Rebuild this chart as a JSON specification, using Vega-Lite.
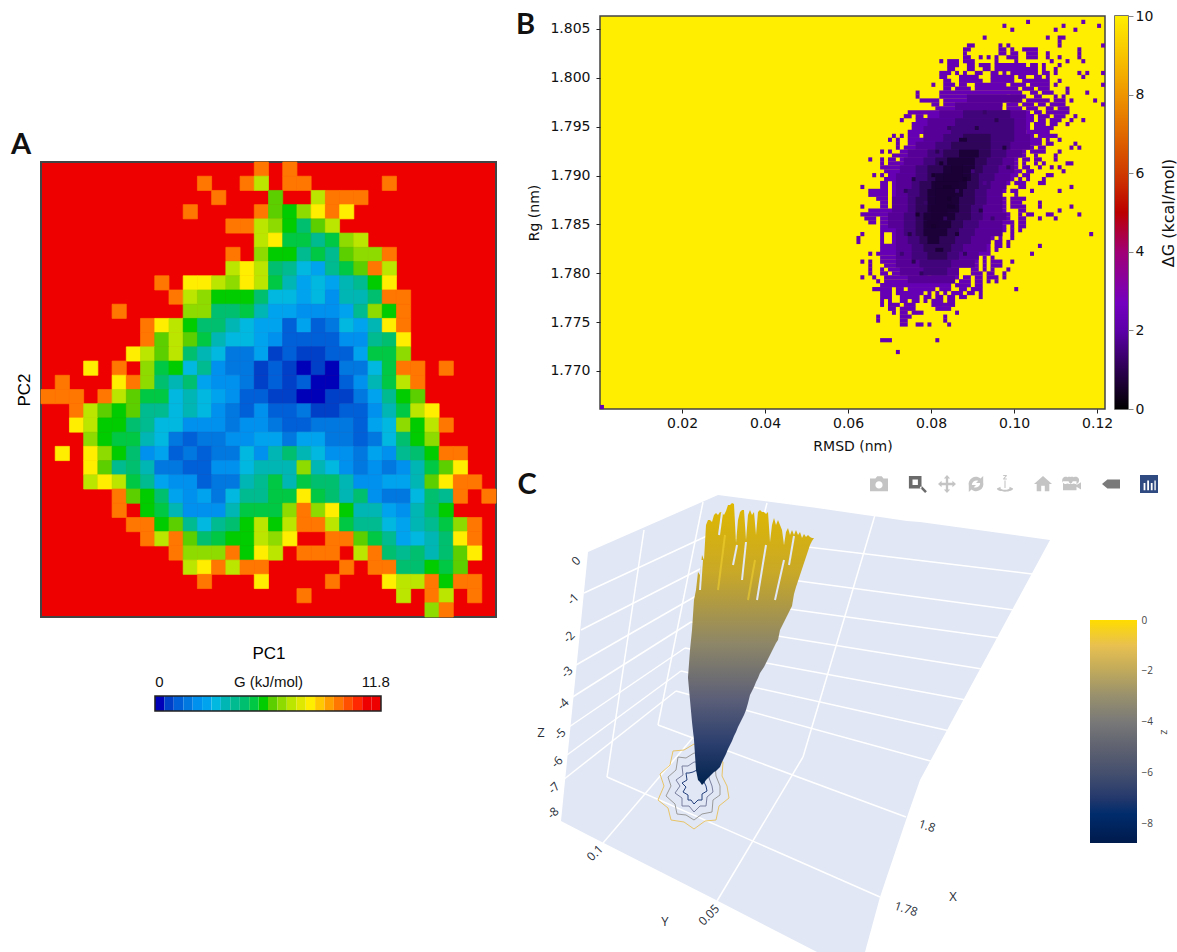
{"$schema":"https://vega.github.io/schema/vega-lite/v6.json","background":"white","padding":{"left":10,"top":8,"right":0,"bottom":0},"config":{"view":{"stroke":null},"font":"DejaVu Sans"},
"datasets":{
"pca":[
{"c":15,"r":0,"G":9.7},{"c":17,"r":0,"G":9.7},
{"c":11,"r":1,"G":9.7},{"c":14,"r":1,"G":9.7},{"c":15,"r":1,"G":7.2},{"c":17,"r":1,"G":9.7},{"c":18,"r":1,"G":9.7},{"c":24,"r":1,"G":9.7},
{"c":12,"r":2,"G":9.7},{"c":16,"r":2,"G":6.2},{"c":19,"r":2,"G":7.2},{"c":20,"r":2,"G":9.7},{"c":21,"r":2,"G":9.7},{"c":22,"r":2,"G":9.7},
{"c":10,"r":3,"G":9.7},{"c":15,"r":3,"G":9.7},{"c":16,"r":3,"G":6.2},{"c":17,"r":3,"G":5.7},{"c":18,"r":3,"G":6.7},{"c":19,"r":3,"G":8.2},{"c":20,"r":3,"G":9.7},{"c":21,"r":3,"G":8.2},
{"c":13,"r":4,"G":9.7},{"c":14,"r":4,"G":9.7},{"c":15,"r":4,"G":7.2},{"c":16,"r":4,"G":6.7},{"c":17,"r":4,"G":5.7},{"c":18,"r":4,"G":4.7},{"c":19,"r":4,"G":6.2},{"c":20,"r":4,"G":7.2},
{"c":15,"r":5,"G":7.2},{"c":16,"r":5,"G":8.2},{"c":17,"r":5,"G":5.2},{"c":18,"r":5,"G":5.2},{"c":19,"r":5,"G":4.2},{"c":20,"r":5,"G":5.2},{"c":21,"r":5,"G":6.7},{"c":22,"r":5,"G":7.2},
{"c":13,"r":6,"G":9.7},{"c":15,"r":6,"G":6.7},{"c":16,"r":6,"G":5.7},{"c":17,"r":6,"G":5.7},{"c":18,"r":6,"G":4.2},{"c":19,"r":6,"G":5.2},{"c":20,"r":6,"G":4.2},{"c":21,"r":6,"G":6.2},{"c":22,"r":6,"G":6.7},{"c":23,"r":6,"G":6.7},{"c":24,"r":6,"G":9.7},
{"c":13,"r":7,"G":7.2},{"c":14,"r":7,"G":8.2},{"c":15,"r":7,"G":7.2},{"c":16,"r":7,"G":4.7},{"c":17,"r":7,"G":4.2},{"c":18,"r":7,"G":3.2},{"c":19,"r":7,"G":2.7},{"c":20,"r":7,"G":4.2},{"c":21,"r":7,"G":5.2},{"c":22,"r":7,"G":6.2},{"c":23,"r":7,"G":9.7},{"c":24,"r":7,"G":7.2},
{"c":8,"r":8,"G":9.7},{"c":10,"r":8,"G":8.2},{"c":11,"r":8,"G":8.2},{"c":12,"r":8,"G":7.2},{"c":13,"r":8,"G":6.7},{"c":14,"r":8,"G":8.2},{"c":15,"r":8,"G":7.2},{"c":16,"r":8,"G":5.2},{"c":17,"r":8,"G":3.7},{"c":18,"r":8,"G":2.7},{"c":19,"r":8,"G":3.2},{"c":20,"r":8,"G":2.7},{"c":21,"r":8,"G":3.7},{"c":22,"r":8,"G":4.2},{"c":23,"r":8,"G":5.7},{"c":24,"r":8,"G":8.2},
{"c":9,"r":9,"G":9.7},{"c":10,"r":9,"G":7.2},{"c":11,"r":9,"G":6.7},{"c":12,"r":9,"G":5.7},{"c":13,"r":9,"G":5.7},{"c":14,"r":9,"G":5.7},{"c":15,"r":9,"G":4.7},{"c":16,"r":9,"G":3.2},{"c":17,"r":9,"G":3.2},{"c":18,"r":9,"G":2.7},{"c":19,"r":9,"G":3.2},{"c":20,"r":9,"G":2.2},{"c":21,"r":9,"G":3.7},{"c":22,"r":9,"G":3.7},{"c":23,"r":9,"G":4.7},{"c":24,"r":9,"G":9.7},{"c":25,"r":9,"G":9.7},
{"c":5,"r":10,"G":9.7},{"c":10,"r":10,"G":6.7},{"c":11,"r":10,"G":6.7},{"c":12,"r":10,"G":4.7},{"c":13,"r":10,"G":4.7},{"c":14,"r":10,"G":5.2},{"c":15,"r":10,"G":3.7},{"c":16,"r":10,"G":2.7},{"c":17,"r":10,"G":2.7},{"c":18,"r":10,"G":2.2},{"c":19,"r":10,"G":2.2},{"c":20,"r":10,"G":2.2},{"c":21,"r":10,"G":2.7},{"c":22,"r":10,"G":4.2},{"c":23,"r":10,"G":6.7},{"c":24,"r":10,"G":5.7},{"c":25,"r":10,"G":9.7},
{"c":7,"r":11,"G":9.7},{"c":8,"r":11,"G":8.2},{"c":9,"r":11,"G":7.2},{"c":10,"r":11,"G":5.7},{"c":11,"r":11,"G":4.7},{"c":12,"r":11,"G":4.7},{"c":13,"r":11,"G":3.7},{"c":14,"r":11,"G":3.2},{"c":15,"r":11,"G":2.7},{"c":16,"r":11,"G":2.7},{"c":17,"r":11,"G":1.2},{"c":18,"r":11,"G":2.7},{"c":19,"r":11,"G":1.2},{"c":20,"r":11,"G":1.7},{"c":21,"r":11,"G":3.2},{"c":22,"r":11,"G":2.7},{"c":23,"r":11,"G":3.7},{"c":24,"r":11,"G":8.2},{"c":25,"r":11,"G":9.7},
{"c":7,"r":12,"G":9.7},{"c":8,"r":12,"G":6.2},{"c":9,"r":12,"G":7.2},{"c":10,"r":12,"G":6.2},{"c":11,"r":12,"G":5.2},{"c":12,"r":12,"G":3.7},{"c":13,"r":12,"G":3.2},{"c":14,"r":12,"G":3.2},{"c":15,"r":12,"G":2.7},{"c":16,"r":12,"G":2.2},{"c":17,"r":12,"G":1.2},{"c":18,"r":12,"G":1.2},{"c":19,"r":12,"G":1.2},{"c":20,"r":12,"G":1.2},{"c":21,"r":12,"G":2.2},{"c":22,"r":12,"G":2.2},{"c":23,"r":12,"G":4.2},{"c":24,"r":12,"G":4.7},{"c":25,"r":12,"G":8.2},
{"c":6,"r":13,"G":8.2},{"c":7,"r":13,"G":7.2},{"c":8,"r":13,"G":6.2},{"c":9,"r":13,"G":7.2},{"c":10,"r":13,"G":4.7},{"c":11,"r":13,"G":3.7},{"c":12,"r":13,"G":3.2},{"c":13,"r":13,"G":1.7},{"c":14,"r":13,"G":1.7},{"c":15,"r":13,"G":2.7},{"c":16,"r":13,"G":0.7},{"c":17,"r":13,"G":1.2},{"c":18,"r":13,"G":0.7},{"c":19,"r":13,"G":0.7},{"c":20,"r":13,"G":1.2},{"c":21,"r":13,"G":1.2},{"c":22,"r":13,"G":2.7},{"c":23,"r":13,"G":5.2},{"c":24,"r":13,"G":5.2},{"c":25,"r":13,"G":6.7},
{"c":3,"r":14,"G":8.2},{"c":5,"r":14,"G":9.7},{"c":7,"r":14,"G":6.7},{"c":8,"r":14,"G":5.2},{"c":9,"r":14,"G":5.7},{"c":10,"r":14,"G":3.2},{"c":11,"r":14,"G":4.2},{"c":12,"r":14,"G":2.2},{"c":13,"r":14,"G":1.7},{"c":14,"r":14,"G":1.7},{"c":15,"r":14,"G":0.7},{"c":16,"r":14,"G":1.2},{"c":17,"r":14,"G":0.7},{"c":18,"r":14,"G":0.2},{"c":19,"r":14,"G":0.7},{"c":20,"r":14,"G":0.2},{"c":21,"r":14,"G":1.7},{"c":22,"r":14,"G":1.7},{"c":23,"r":14,"G":3.2},{"c":24,"r":14,"G":5.2},{"c":25,"r":14,"G":9.7},{"c":26,"r":14,"G":9.7},{"c":28,"r":14,"G":9.7},
{"c":1,"r":15,"G":9.7},{"c":5,"r":15,"G":8.2},{"c":6,"r":15,"G":9.7},{"c":7,"r":15,"G":6.7},{"c":8,"r":15,"G":4.7},{"c":9,"r":15,"G":3.7},{"c":10,"r":15,"G":4.7},{"c":11,"r":15,"G":2.7},{"c":12,"r":15,"G":2.2},{"c":13,"r":15,"G":2.2},{"c":14,"r":15,"G":1.7},{"c":15,"r":15,"G":0.7},{"c":16,"r":15,"G":1.2},{"c":17,"r":15,"G":0.7},{"c":18,"r":15,"G":1.2},{"c":19,"r":15,"G":0.2},{"c":20,"r":15,"G":0.2},{"c":21,"r":15,"G":1.2},{"c":22,"r":15,"G":2.2},{"c":23,"r":15,"G":3.7},{"c":24,"r":15,"G":5.2},{"c":25,"r":15,"G":7.2},{"c":26,"r":15,"G":9.7},
{"c":0,"r":16,"G":9.7},{"c":1,"r":16,"G":9.7},{"c":2,"r":16,"G":9.7},{"c":4,"r":16,"G":9.7},{"c":5,"r":16,"G":7.2},{"c":6,"r":16,"G":6.2},{"c":7,"r":16,"G":5.2},{"c":8,"r":16,"G":5.2},{"c":9,"r":16,"G":3.2},{"c":10,"r":16,"G":3.7},{"c":11,"r":16,"G":3.2},{"c":12,"r":16,"G":2.7},{"c":13,"r":16,"G":2.2},{"c":14,"r":16,"G":1.2},{"c":15,"r":16,"G":1.2},{"c":16,"r":16,"G":0.7},{"c":17,"r":16,"G":0.7},{"c":18,"r":16,"G":0.2},{"c":19,"r":16,"G":0.2},{"c":20,"r":16,"G":0.7},{"c":21,"r":16,"G":0.7},{"c":22,"r":16,"G":1.7},{"c":23,"r":16,"G":2.7},{"c":24,"r":16,"G":4.2},{"c":25,"r":16,"G":5.7},{"c":26,"r":16,"G":6.2},
{"c":2,"r":17,"G":9.7},{"c":3,"r":17,"G":7.2},{"c":4,"r":17,"G":6.2},{"c":5,"r":17,"G":5.7},{"c":6,"r":17,"G":6.2},{"c":7,"r":17,"G":4.2},{"c":8,"r":17,"G":4.2},{"c":9,"r":17,"G":3.2},{"c":10,"r":17,"G":3.7},{"c":11,"r":17,"G":3.2},{"c":12,"r":17,"G":2.2},{"c":13,"r":17,"G":1.7},{"c":14,"r":17,"G":1.2},{"c":15,"r":17,"G":2.2},{"c":16,"r":17,"G":1.2},{"c":17,"r":17,"G":1.2},{"c":18,"r":17,"G":1.7},{"c":19,"r":17,"G":0.7},{"c":20,"r":17,"G":0.7},{"c":21,"r":17,"G":1.2},{"c":22,"r":17,"G":1.2},{"c":23,"r":17,"G":2.2},{"c":24,"r":17,"G":3.7},{"c":25,"r":17,"G":5.2},{"c":26,"r":17,"G":7.2},{"c":27,"r":17,"G":8.2},
{"c":2,"r":18,"G":8.2},{"c":3,"r":18,"G":7.2},{"c":4,"r":18,"G":5.7},{"c":5,"r":18,"G":5.7},{"c":6,"r":18,"G":4.7},{"c":7,"r":18,"G":4.2},{"c":8,"r":18,"G":3.2},{"c":9,"r":18,"G":3.2},{"c":10,"r":18,"G":2.2},{"c":11,"r":18,"G":2.2},{"c":12,"r":18,"G":2.2},{"c":13,"r":18,"G":1.7},{"c":14,"r":18,"G":2.2},{"c":15,"r":18,"G":2.2},{"c":16,"r":18,"G":1.7},{"c":17,"r":18,"G":1.2},{"c":18,"r":18,"G":1.2},{"c":19,"r":18,"G":1.7},{"c":20,"r":18,"G":1.7},{"c":21,"r":18,"G":1.7},{"c":22,"r":18,"G":1.2},{"c":23,"r":18,"G":2.7},{"c":24,"r":18,"G":3.2},{"c":25,"r":18,"G":6.7},{"c":26,"r":18,"G":5.7},{"c":27,"r":18,"G":7.2},{"c":28,"r":18,"G":9.7},
{"c":3,"r":19,"G":6.7},{"c":4,"r":19,"G":5.7},{"c":5,"r":19,"G":5.2},{"c":6,"r":19,"G":5.2},{"c":7,"r":19,"G":3.7},{"c":8,"r":19,"G":3.2},{"c":9,"r":19,"G":1.7},{"c":10,"r":19,"G":1.2},{"c":11,"r":19,"G":1.7},{"c":12,"r":19,"G":1.7},{"c":13,"r":19,"G":2.2},{"c":14,"r":19,"G":2.2},{"c":15,"r":19,"G":2.7},{"c":16,"r":19,"G":2.7},{"c":17,"r":19,"G":1.7},{"c":18,"r":19,"G":2.7},{"c":19,"r":19,"G":2.7},{"c":20,"r":19,"G":1.7},{"c":21,"r":19,"G":1.7},{"c":22,"r":19,"G":1.2},{"c":23,"r":19,"G":1.7},{"c":24,"r":19,"G":3.2},{"c":25,"r":19,"G":4.7},{"c":26,"r":19,"G":5.7},{"c":27,"r":19,"G":6.7},
{"c":1,"r":20,"G":8.2},{"c":3,"r":20,"G":8.2},{"c":4,"r":20,"G":6.7},{"c":5,"r":20,"G":5.7},{"c":6,"r":20,"G":4.7},{"c":7,"r":20,"G":2.2},{"c":8,"r":20,"G":2.7},{"c":9,"r":20,"G":1.2},{"c":10,"r":20,"G":1.7},{"c":11,"r":20,"G":1.2},{"c":12,"r":20,"G":1.7},{"c":13,"r":20,"G":1.7},{"c":14,"r":20,"G":3.2},{"c":15,"r":20,"G":2.2},{"c":16,"r":20,"G":3.7},{"c":17,"r":20,"G":4.7},{"c":18,"r":20,"G":3.7},{"c":19,"r":20,"G":3.2},{"c":20,"r":20,"G":2.2},{"c":21,"r":20,"G":2.2},{"c":22,"r":20,"G":1.7},{"c":23,"r":20,"G":2.7},{"c":24,"r":20,"G":2.2},{"c":25,"r":20,"G":4.2},{"c":26,"r":20,"G":4.7},{"c":27,"r":20,"G":5.7},{"c":28,"r":20,"G":9.7},{"c":29,"r":20,"G":9.7},
{"c":3,"r":21,"G":8.2},{"c":4,"r":21,"G":6.2},{"c":5,"r":21,"G":4.2},{"c":6,"r":21,"G":4.7},{"c":7,"r":21,"G":3.7},{"c":8,"r":21,"G":1.7},{"c":9,"r":21,"G":1.7},{"c":10,"r":21,"G":1.2},{"c":11,"r":21,"G":1.2},{"c":12,"r":21,"G":2.2},{"c":13,"r":21,"G":2.2},{"c":14,"r":21,"G":3.2},{"c":15,"r":21,"G":3.7},{"c":16,"r":21,"G":3.7},{"c":17,"r":21,"G":3.7},{"c":18,"r":21,"G":6.7},{"c":19,"r":21,"G":3.7},{"c":20,"r":21,"G":3.2},{"c":21,"r":21,"G":2.2},{"c":22,"r":21,"G":1.7},{"c":23,"r":21,"G":2.2},{"c":24,"r":21,"G":1.7},{"c":25,"r":21,"G":2.2},{"c":26,"r":21,"G":3.7},{"c":27,"r":21,"G":5.2},{"c":28,"r":21,"G":6.2},{"c":29,"r":21,"G":8.2},
{"c":3,"r":22,"G":7.2},{"c":4,"r":22,"G":8.2},{"c":5,"r":22,"G":7.2},{"c":6,"r":22,"G":5.2},{"c":7,"r":22,"G":4.2},{"c":8,"r":22,"G":2.7},{"c":9,"r":22,"G":2.2},{"c":10,"r":22,"G":2.2},{"c":11,"r":22,"G":1.2},{"c":12,"r":22,"G":1.7},{"c":13,"r":22,"G":1.7},{"c":14,"r":22,"G":3.7},{"c":15,"r":22,"G":4.2},{"c":16,"r":22,"G":5.2},{"c":17,"r":22,"G":3.7},{"c":18,"r":22,"G":5.2},{"c":19,"r":22,"G":4.7},{"c":20,"r":22,"G":4.7},{"c":21,"r":22,"G":3.7},{"c":22,"r":22,"G":2.2},{"c":23,"r":22,"G":2.2},{"c":24,"r":22,"G":2.7},{"c":25,"r":22,"G":2.7},{"c":26,"r":22,"G":3.7},{"c":27,"r":22,"G":6.2},{"c":28,"r":22,"G":8.2},{"c":29,"r":22,"G":9.7},{"c":30,"r":22,"G":9.7},
{"c":5,"r":23,"G":9.7},{"c":6,"r":23,"G":6.2},{"c":7,"r":23,"G":5.7},{"c":8,"r":23,"G":4.7},{"c":9,"r":23,"G":2.7},{"c":10,"r":23,"G":2.2},{"c":11,"r":23,"G":2.7},{"c":12,"r":23,"G":1.7},{"c":13,"r":23,"G":3.2},{"c":14,"r":23,"G":4.2},{"c":15,"r":23,"G":4.2},{"c":16,"r":23,"G":5.2},{"c":17,"r":23,"G":5.2},{"c":18,"r":23,"G":8.2},{"c":19,"r":23,"G":5.2},{"c":20,"r":23,"G":4.7},{"c":21,"r":23,"G":3.7},{"c":22,"r":23,"G":4.7},{"c":23,"r":23,"G":2.2},{"c":24,"r":23,"G":1.7},{"c":25,"r":23,"G":1.7},{"c":26,"r":23,"G":3.2},{"c":27,"r":23,"G":4.7},{"c":28,"r":23,"G":4.2},{"c":29,"r":23,"G":9.7},{"c":31,"r":23,"G":9.7},
{"c":5,"r":24,"G":9.7},{"c":7,"r":24,"G":5.7},{"c":8,"r":24,"G":5.2},{"c":9,"r":24,"G":3.7},{"c":10,"r":24,"G":2.2},{"c":11,"r":24,"G":2.2},{"c":12,"r":24,"G":2.2},{"c":13,"r":24,"G":3.7},{"c":14,"r":24,"G":5.2},{"c":15,"r":24,"G":5.2},{"c":16,"r":24,"G":5.2},{"c":17,"r":24,"G":6.7},{"c":18,"r":24,"G":9.7},{"c":19,"r":24,"G":6.7},{"c":20,"r":24,"G":8.2},{"c":21,"r":24,"G":5.7},{"c":22,"r":24,"G":3.7},{"c":23,"r":24,"G":3.7},{"c":24,"r":24,"G":2.7},{"c":25,"r":24,"G":2.2},{"c":26,"r":24,"G":3.7},{"c":27,"r":24,"G":4.7},{"c":28,"r":24,"G":5.7},
{"c":6,"r":25,"G":9.7},{"c":7,"r":25,"G":9.7},{"c":8,"r":25,"G":5.7},{"c":9,"r":25,"G":6.2},{"c":10,"r":25,"G":4.2},{"c":11,"r":25,"G":3.2},{"c":12,"r":25,"G":4.2},{"c":13,"r":25,"G":4.7},{"c":14,"r":25,"G":5.7},{"c":15,"r":25,"G":7.2},{"c":16,"r":25,"G":5.7},{"c":17,"r":25,"G":7.2},{"c":18,"r":25,"G":9.7},{"c":19,"r":25,"G":9.7},{"c":20,"r":25,"G":7.2},{"c":21,"r":25,"G":5.2},{"c":22,"r":25,"G":4.2},{"c":23,"r":25,"G":4.2},{"c":24,"r":25,"G":3.2},{"c":25,"r":25,"G":2.7},{"c":26,"r":25,"G":3.7},{"c":27,"r":25,"G":4.2},{"c":28,"r":25,"G":5.2},{"c":29,"r":25,"G":6.7},{"c":30,"r":25,"G":9.7},
{"c":7,"r":26,"G":9.7},{"c":8,"r":26,"G":7.2},{"c":9,"r":26,"G":9.7},{"c":10,"r":26,"G":6.2},{"c":11,"r":26,"G":4.7},{"c":12,"r":26,"G":5.2},{"c":13,"r":26,"G":5.7},{"c":14,"r":26,"G":5.7},{"c":15,"r":26,"G":7.2},{"c":16,"r":26,"G":6.7},{"c":17,"r":26,"G":8.2},{"c":20,"r":26,"G":9.7},{"c":21,"r":26,"G":9.7},{"c":22,"r":26,"G":6.2},{"c":23,"r":26,"G":5.2},{"c":24,"r":26,"G":4.2},{"c":25,"r":26,"G":2.7},{"c":26,"r":26,"G":3.2},{"c":27,"r":26,"G":3.7},{"c":28,"r":26,"G":4.7},{"c":29,"r":26,"G":8.2},{"c":30,"r":26,"G":9.7},
{"c":9,"r":27,"G":9.7},{"c":10,"r":27,"G":6.7},{"c":11,"r":27,"G":6.7},{"c":12,"r":27,"G":6.7},{"c":13,"r":27,"G":9.7},{"c":14,"r":27,"G":5.7},{"c":15,"r":27,"G":8.2},{"c":16,"r":27,"G":7.2},{"c":18,"r":27,"G":9.7},{"c":19,"r":27,"G":9.7},{"c":20,"r":27,"G":9.7},{"c":22,"r":27,"G":7.2},{"c":23,"r":27,"G":9.7},{"c":24,"r":27,"G":4.7},{"c":25,"r":27,"G":4.2},{"c":26,"r":27,"G":4.7},{"c":27,"r":27,"G":3.7},{"c":28,"r":27,"G":4.7},{"c":29,"r":27,"G":6.2},{"c":30,"r":27,"G":8.2},
{"c":10,"r":28,"G":7.2},{"c":11,"r":28,"G":8.2},{"c":12,"r":28,"G":9.7},{"c":13,"r":28,"G":7.2},{"c":14,"r":28,"G":9.7},{"c":15,"r":28,"G":9.7},{"c":21,"r":28,"G":9.7},{"c":23,"r":28,"G":9.7},{"c":24,"r":28,"G":9.7},{"c":25,"r":28,"G":4.7},{"c":26,"r":28,"G":4.7},{"c":27,"r":28,"G":5.7},{"c":28,"r":28,"G":5.2},{"c":29,"r":28,"G":6.2},
{"c":11,"r":29,"G":9.7},{"c":15,"r":29,"G":8.2},{"c":20,"r":29,"G":9.7},{"c":24,"r":29,"G":8.2},{"c":25,"r":29,"G":7.2},{"c":26,"r":29,"G":7.2},{"c":27,"r":29,"G":9.7},{"c":28,"r":29,"G":5.7},{"c":29,"r":29,"G":9.7},{"c":30,"r":29,"G":9.7},
{"c":18,"r":30,"G":9.7},{"c":25,"r":30,"G":7.2},{"c":27,"r":30,"G":9.7},{"c":28,"r":30,"G":7.2},{"c":30,"r":30,"G":9.7},
{"c":27,"r":31,"G":6.7},{"c":28,"r":31,"G":9.7}
],
"edge":[
{"a":108,"b":109,"t":1},{"a":122,"b":123,"t":1},{"a":102,"b":103,"t":2},{"a":117,"b":118,"t":2},{"a":126,"b":127,"t":2},{"a":104,"b":105,"t":3},{"a":115,"b":116,"t":3},{"a":120,"b":121,"t":3},{"a":97,"b":98,"t":5},{"a":113,"b":114,"t":5},{"a":116,"b":118,"t":5},{"a":116,"b":117,"t":6},
{"a":93,"b":95,"t":7},{"a":101,"b":102,"t":7},{"a":103,"b":104,"t":7},{"a":116,"b":117,"t":7},{"a":127,"b":128,"t":7},
{"a":92,"b":94,"t":8},{"a":101,"b":103,"t":8},{"a":104,"b":105,"t":8},{"a":107,"b":111,"t":8},{"a":121,"b":122,"t":8},
{"a":92,"b":93,"t":9},{"a":101,"b":103,"t":9},{"a":104,"b":106,"t":9},{"a":108,"b":111,"t":9},{"a":113,"b":114,"t":9},{"a":121,"b":122,"t":9},
{"a":92,"b":94,"t":10},{"a":96,"b":97,"t":10},{"a":98,"b":99,"t":10},{"a":100,"b":101,"t":10},{"a":103,"b":106,"t":10},{"a":108,"b":111,"t":10},{"a":113,"b":114,"t":10},{"a":116,"b":117,"t":10},{"a":121,"b":122,"t":10},
{"a":86,"b":87,"t":11},{"a":88,"b":91,"t":11},{"a":92,"b":95,"t":11},{"a":100,"b":101,"t":11},{"a":105,"b":106,"t":11},{"a":114,"b":115,"t":11},{"a":118,"b":119,"t":11},{"a":122,"b":123,"t":11},
{"a":88,"b":91,"t":12},{"a":93,"b":95,"t":12},{"a":96,"b":99,"t":12},{"a":100,"b":108,"t":12},{"a":109,"b":111,"t":12},{"a":112,"b":113,"t":12},{"a":116,"b":117,"t":12},
{"a":88,"b":90,"t":13},{"a":93,"b":95,"t":13},{"a":97,"b":99,"t":13},{"a":100,"b":111,"t":13},{"a":112,"b":113,"t":13},{"a":115,"b":116,"t":13},
{"a":86,"b":89,"t":14},{"a":90,"b":91,"t":14},{"a":92,"b":93,"t":14},{"a":95,"b":97,"t":14},{"a":99,"b":101,"t":14},{"a":102,"b":103,"t":14},{"a":104,"b":111,"t":14},{"a":112,"b":114,"t":14},{"a":115,"b":116,"t":14},{"a":121,"b":122,"t":14},{"a":123,"b":124,"t":14},{"a":127,"b":128,"t":14},
{"a":86,"b":88,"t":15},{"a":91,"b":96,"t":15},{"a":99,"b":105,"t":15},{"a":106,"b":108,"t":15},{"a":110,"b":112,"t":15},{"a":113,"b":114,"t":15},{"a":122,"b":123,"t":15},
{"a":87,"b":89,"t":16},{"a":91,"b":97,"t":16},{"a":99,"b":105,"t":16},{"a":107,"b":114,"t":16},{"a":116,"b":117,"t":16},
{"a":84,"b":85,"t":17},{"a":87,"b":90,"t":17},{"a":91,"b":93,"t":17},{"a":95,"b":103,"t":17},{"a":104,"b":108,"t":17},{"a":109,"b":114,"t":17},{"a":115,"b":116,"t":17},{"a":127,"b":128,"t":17},
{"a":87,"b":89,"t":18},{"a":90,"b":94,"t":18},{"a":95,"b":106,"t":18},{"a":107,"b":110,"t":18},{"a":111,"b":114,"t":18},{"a":118,"b":119,"t":18},
{"a":80,"b":81,"t":19},{"a":86,"b":107,"t":19},{"a":109,"b":111,"t":19},{"a":112,"b":115,"t":19},{"a":118,"b":119,"t":19},{"a":123,"b":124,"t":19},
{"a":80,"b":81,"t":20},{"a":86,"b":103,"t":20},{"a":104,"b":108,"t":20},{"a":110,"b":112,"t":20},{"a":115,"b":116,"t":20},{"a":117,"b":118,"t":20},
{"a":81,"b":86,"t":21},{"a":87,"b":103,"t":21},{"a":104,"b":107,"t":21},{"a":108,"b":114,"t":21},{"a":115,"b":118,"t":21},{"a":119,"b":120,"t":21},{"a":125,"b":126,"t":21},
{"a":84,"b":86,"t":22},{"a":87,"b":102,"t":22},{"a":103,"b":106,"t":22},{"a":107,"b":110,"t":22},{"a":111,"b":113,"t":22},{"a":114,"b":118,"t":22},{"a":127,"b":128,"t":22},
{"a":85,"b":101,"t":23},{"a":103,"b":107,"t":23},{"a":108,"b":111,"t":23},{"a":113,"b":115,"t":23},{"a":116,"b":119,"t":23},
{"a":78,"b":109,"t":24},{"a":110,"b":112,"t":24},{"a":113,"b":119,"t":24},
{"a":77,"b":79,"t":25},{"a":80,"b":82,"t":25},{"a":83,"b":110,"t":25},{"a":111,"b":114,"t":25},{"a":115,"b":118,"t":25},{"a":120,"b":121,"t":25},
{"a":76,"b":77,"t":26},{"a":80,"b":110,"t":26},{"a":111,"b":113,"t":26},{"a":114,"b":117,"t":26},{"a":119,"b":120,"t":26},{"a":122,"b":123,"t":26},
{"a":79,"b":109,"t":27},{"a":110,"b":113,"t":27},{"a":114,"b":116,"t":27},{"a":118,"b":119,"t":27},
{"a":79,"b":109,"t":28},{"a":110,"b":115,"t":28},{"a":78,"b":107,"t":29},{"a":108,"b":114,"t":29},
{"a":74,"b":75,"t":30},{"a":76,"b":77,"t":30},{"a":78,"b":81,"t":30},{"a":82,"b":110,"t":30},{"a":111,"b":116,"t":30},
{"a":73,"b":74,"t":31},{"a":75,"b":76,"t":31},{"a":78,"b":112,"t":31},{"a":113,"b":114,"t":31},{"a":116,"b":117,"t":31},
{"a":75,"b":76,"t":32},{"a":78,"b":112,"t":32},{"a":113,"b":115,"t":32},{"a":120,"b":121,"t":32},
{"a":75,"b":76,"t":33},{"a":77,"b":110,"t":33},{"a":111,"b":113,"t":33},{"a":119,"b":120,"t":33},{"a":121,"b":122,"t":33},
{"a":71,"b":72,"t":34},{"a":73,"b":74,"t":34},{"a":76,"b":108,"t":34},{"a":109,"b":113,"t":34},{"a":116,"b":117,"t":34},
{"a":74,"b":108,"t":35},{"a":110,"b":111,"t":35},{"a":115,"b":116,"t":35},
{"a":68,"b":69,"t":36},{"a":71,"b":72,"t":36},{"a":73,"b":75,"t":36},{"a":76,"b":106,"t":36},{"a":107,"b":109,"t":36},{"a":110,"b":112,"t":36},{"a":115,"b":116,"t":36},
{"a":71,"b":72,"t":37},{"a":73,"b":106,"t":37},{"a":107,"b":108,"t":37},{"a":110,"b":111,"t":37},{"a":112,"b":113,"t":37},{"a":118,"b":120,"t":37},
{"a":71,"b":106,"t":38},{"a":107,"b":109,"t":38},{"a":111,"b":112,"t":38},{"a":114,"b":115,"t":38},{"a":116,"b":117,"t":38},
{"a":72,"b":107,"t":39},{"a":108,"b":110,"t":39},{"a":117,"b":118,"t":39},
{"a":69,"b":70,"t":40},{"a":71,"b":72,"t":40},{"a":73,"b":106,"t":40},{"a":107,"b":109,"t":40},{"a":113,"b":115,"t":40},
{"a":72,"b":105,"t":41},{"a":106,"b":107,"t":41},{"a":108,"b":109,"t":41},{"a":112,"b":113,"t":41},
{"a":71,"b":73,"t":42},{"a":74,"b":104,"t":42},{"a":105,"b":108,"t":42},{"a":111,"b":113,"t":42},
{"a":66,"b":67,"t":43},{"a":71,"b":73,"t":43},{"a":74,"b":103,"t":43},{"a":106,"b":108,"t":43},{"a":119,"b":120,"t":43},
{"a":68,"b":73,"t":44},{"a":74,"b":103,"t":44},{"a":104,"b":106,"t":44},{"a":109,"b":110,"t":44},{"a":116,"b":117,"t":44},
{"a":68,"b":73,"t":45},{"a":74,"b":102,"t":45},{"a":105,"b":106,"t":45},
{"a":70,"b":73,"t":46},{"a":74,"b":103,"t":46},{"a":104,"b":108,"t":46},
{"a":71,"b":73,"t":47},{"a":74,"b":103,"t":47},{"a":104,"b":107,"t":47},{"a":111,"b":112,"t":47},
{"a":66,"b":67,"t":48},{"a":71,"b":73,"t":48},{"a":74,"b":103,"t":48},{"a":104,"b":108,"t":48},{"a":111,"b":112,"t":48},{"a":119,"b":120,"t":48},
{"a":68,"b":103,"t":49},{"a":106,"b":108,"t":49},{"a":116,"b":117,"t":49},
{"a":66,"b":104,"t":50},{"a":106,"b":107,"t":50},{"a":108,"b":110,"t":50},{"a":113,"b":115,"t":50},{"a":121,"b":122,"t":50},
{"a":67,"b":70,"t":51},{"a":71,"b":104,"t":51},{"a":106,"b":108,"t":51},{"a":111,"b":112,"t":51},{"a":115,"b":116,"t":51},
{"a":68,"b":70,"t":52},{"a":71,"b":105,"t":52},{"a":106,"b":108,"t":52},
{"a":71,"b":103,"t":53},{"a":104,"b":105,"t":53},{"a":106,"b":108,"t":53},
{"a":71,"b":103,"t":54},{"a":104,"b":105,"t":54},{"a":106,"b":107,"t":54},
{"a":66,"b":67,"t":55},{"a":71,"b":72,"t":55},{"a":74,"b":102,"t":55},{"a":104,"b":105,"t":55},{"a":124,"b":125,"t":55},
{"a":65,"b":66,"t":56},{"a":71,"b":72,"t":56},{"a":74,"b":100,"t":56},{"a":101,"b":102,"t":56},{"a":104,"b":105,"t":56},
{"a":65,"b":66,"t":57},{"a":71,"b":72,"t":57},{"a":74,"b":99,"t":57},{"a":100,"b":102,"t":57},{"a":103,"b":104,"t":57},
{"a":71,"b":99,"t":58},{"a":100,"b":102,"t":58},{"a":103,"b":104,"t":58},{"a":111,"b":112,"t":58},
{"a":71,"b":99,"t":59},{"a":100,"b":101,"t":59},
{"a":68,"b":69,"t":60},{"a":70,"b":99,"t":60},{"a":109,"b":110,"t":60},
{"a":71,"b":96,"t":61},{"a":97,"b":98,"t":61},{"a":99,"b":100,"t":61},
{"a":66,"b":67,"t":62},{"a":68,"b":69,"t":62},{"a":71,"b":96,"t":62},{"a":97,"b":98,"t":62},{"a":99,"b":102,"t":62},{"a":104,"b":105,"t":62},
{"a":68,"b":69,"t":63},{"a":72,"b":96,"t":63},{"a":97,"b":98,"t":63},{"a":99,"b":102,"t":63},
{"a":68,"b":69,"t":64},{"a":71,"b":72,"t":64},{"a":73,"b":91,"t":64},{"a":94,"b":96,"t":64},{"a":97,"b":98,"t":64},{"a":99,"b":100,"t":64},{"a":103,"b":104,"t":64},
{"a":68,"b":69,"t":65},{"a":71,"b":73,"t":65},{"a":74,"b":91,"t":65},{"a":94,"b":97,"t":65},{"a":98,"b":100,"t":65},{"a":102,"b":103,"t":65},
{"a":66,"b":67,"t":66},{"a":69,"b":70,"t":66},{"a":72,"b":83,"t":66},{"a":84,"b":91,"t":66},{"a":92,"b":94,"t":66},{"a":95,"b":97,"t":66},{"a":98,"b":101,"t":66},{"a":102,"b":103,"t":66},
{"a":70,"b":71,"t":67},{"a":72,"b":90,"t":67},{"a":91,"b":94,"t":67},{"a":95,"b":97,"t":67},{"a":98,"b":99,"t":67},{"a":100,"b":101,"t":67},
{"a":71,"b":89,"t":68},{"a":90,"b":94,"t":68},{"a":95,"b":97,"t":68},
{"a":69,"b":74,"t":69},{"a":75,"b":77,"t":69},{"a":78,"b":85,"t":69},{"a":86,"b":89,"t":69},{"a":91,"b":93,"t":69},{"a":94,"b":97,"t":69},{"a":105,"b":106,"t":69},
{"a":71,"b":74,"t":70},{"a":75,"b":82,"t":70},{"a":83,"b":84,"t":70},{"a":85,"b":86,"t":70},{"a":87,"b":88,"t":70},{"a":89,"b":92,"t":70},{"a":93,"b":95,"t":70},{"a":96,"b":97,"t":70},
{"a":71,"b":74,"t":71},{"a":76,"b":81,"t":71},{"a":82,"b":84,"t":71},{"a":85,"b":87,"t":71},{"a":88,"b":90,"t":71},{"a":91,"b":93,"t":71},{"a":96,"b":97,"t":71},
{"a":71,"b":72,"t":72},{"a":73,"b":74,"t":72},{"a":76,"b":78,"t":72},{"a":79,"b":81,"t":72},{"a":82,"b":83,"t":72},{"a":84,"b":87,"t":72},{"a":88,"b":90,"t":72},
{"a":71,"b":72,"t":73},{"a":73,"b":76,"t":73},{"a":77,"b":80,"t":73},{"a":84,"b":90,"t":73},
{"a":73,"b":75,"t":74},{"a":76,"b":80,"t":74},{"a":85,"b":89,"t":74},
{"a":74,"b":75,"t":75},{"a":76,"b":78,"t":75},{"a":79,"b":82,"t":75},{"a":90,"b":91,"t":75},
{"a":70,"b":71,"t":76},{"a":76,"b":79,"t":76},{"a":87,"b":88,"t":76},
{"a":70,"b":71,"t":77},{"a":76,"b":78,"t":77},{"a":87,"b":88,"t":77},
{"a":76,"b":78,"t":78},{"a":80,"b":82,"t":78},{"a":83,"b":84,"t":78},{"a":88,"b":89,"t":78},
{"a":71,"b":74,"t":82},{"a":85,"b":86,"t":82},{"a":75,"b":76,"t":85},{"a":0,"b":1,"t":99}
],
"core":[
{"a":93,"b":107,"t":20.5,"g":2},{"a":90,"b":102,"t":22.5,"g":2},{"a":86,"b":108,"t":24.5,"g":2},{"a":83,"b":108,"t":26.5,"g":2},{"a":82,"b":108,"t":28.5,"g":2},{"a":82,"b":109,"t":30.5,"g":2},{"a":80,"b":109,"t":32.5,"g":2},{"a":78,"b":107,"t":34.5,"g":2},{"a":77,"b":105,"t":36.5,"g":2},{"a":76,"b":105,"t":38.5,"g":2},{"a":75,"b":104,"t":40.5,"g":2},{"a":75,"b":103,"t":42.5,"g":2},{"a":75,"b":102,"t":44.5,"g":2},{"a":74,"b":102,"t":46.5,"g":2},{"a":74,"b":102,"t":48.5,"g":2},{"a":73,"b":103,"t":50.5,"g":2},{"a":73,"b":102,"t":52.5,"g":2},{"a":75,"b":102,"t":54.5,"g":2},{"a":75,"b":99,"t":56.5,"g":2},{"a":75,"b":98,"t":58.5,"g":2},{"a":75,"b":96,"t":60.5,"g":2},{"a":75,"b":95,"t":62.5,"g":2},{"a":76,"b":91,"t":64.5,"g":2},{"a":78,"b":90,"t":66.5,"g":2},
{"a":92,"b":104,"t":24.5,"g":1.7},{"a":90,"b":105,"t":26.5,"g":1.7},{"a":89,"b":105,"t":28.5,"g":1.7},{"a":87,"b":105,"t":30.5,"g":1.7},{"a":85,"b":104,"t":32.5,"g":1.7},{"a":83,"b":103,"t":34.5,"g":1.7},{"a":82,"b":102,"t":36.5,"g":1.7},{"a":80,"b":101,"t":38.5,"g":1.7},{"a":80,"b":100,"t":40.5,"g":1.7},{"a":79,"b":99,"t":42.5,"g":1.7},{"a":78,"b":98,"t":44.5,"g":1.7},{"a":78,"b":98,"t":46.5,"g":1.7},{"a":78,"b":97,"t":48.5,"g":1.7},{"a":77,"b":97,"t":50.5,"g":1.7},{"a":77,"b":96,"t":52.5,"g":1.7},{"a":77,"b":95,"t":54.5,"g":1.7},{"a":78,"b":94,"t":56.5,"g":1.7},{"a":79,"b":92,"t":58.5,"g":1.7},{"a":79,"b":91,"t":60.5,"g":1.7},{"a":81,"b":89,"t":62.5,"g":1.7},{"a":82,"b":88,"t":64.5,"g":1.7},
{"a":92,"b":99,"t":30.5,"g":1.35},{"a":89,"b":99,"t":32.5,"g":1.35},{"a":87,"b":99,"t":34.5,"g":1.35},{"a":85,"b":98,"t":36.5,"g":1.35},{"a":83,"b":97,"t":38.5,"g":1.35},{"a":83,"b":96,"t":40.5,"g":1.35},{"a":81,"b":96,"t":42.5,"g":1.35},{"a":81,"b":95,"t":44.5,"g":1.35},{"a":80,"b":95,"t":46.5,"g":1.35},{"a":80,"b":94,"t":48.5,"g":1.35},{"a":80,"b":94,"t":50.5,"g":1.35},{"a":80,"b":92,"t":52.5,"g":1.35},{"a":80,"b":91,"t":54.5,"g":1.35},{"a":81,"b":90,"t":56.5,"g":1.35},{"a":82,"b":89,"t":58.5,"g":1.35},{"a":83,"b":88,"t":60.5,"g":1.35},
{"a":91,"b":96,"t":34.5,"g":1},{"a":88,"b":95,"t":36.5,"g":1},{"a":87,"b":95,"t":38.5,"g":1},{"a":85,"b":94,"t":40.5,"g":1},{"a":84,"b":93,"t":42.5,"g":1},{"a":83,"b":92,"t":44.5,"g":1},{"a":83,"b":91,"t":46.5,"g":1},{"a":83,"b":91,"t":48.5,"g":1},{"a":82,"b":90,"t":50.5,"g":1},{"a":82,"b":89,"t":52.5,"g":1},{"a":82,"b":88,"t":54.5,"g":1},{"a":83,"b":86,"t":56.5,"g":1},
{"a":89,"b":92,"t":38.5,"g":0.6},{"a":87,"b":92,"t":40.5,"g":0.6},{"a":85,"b":91,"t":42.5,"g":0.6},{"a":85,"b":90,"t":44.5,"g":0.6},{"a":85,"b":89,"t":46.5,"g":0.6},{"a":84,"b":88,"t":48.5,"g":0.6},{"a":84,"b":88,"t":50.5,"g":0.6},{"a":83,"b":86,"t":52.5,"g":0.6}
],
"specks":[
{"a":87,"b":89,"t":43,"g":0.1},{"a":92,"b":93,"t":41,"g":0.1},{"a":84,"b":85,"t":40,"g":0.1},{"a":86,"b":87,"t":37,"g":0.2},{"a":88,"b":89,"t":46,"g":0.1},{"a":88,"b":90,"t":48,"g":0.1},{"a":80,"b":81,"t":50,"g":0.3},{"a":84,"b":85,"t":53,"g":0.2},{"a":87,"b":88,"t":51,"g":1.4},{"a":90,"b":91,"t":44,"g":1.4},{"a":82,"b":83,"t":47,"g":1.5},{"a":94,"b":95,"t":39,"g":1.7},{"a":97,"b":98,"t":42,"g":1.9},{"a":91,"b":93,"t":31,"g":1},{"a":95,"b":96,"t":28,"g":1.2},{"a":100,"b":101,"t":26,"g":1.3},{"a":97,"b":98,"t":24,"g":1.5},{"a":102,"b":103,"t":33,"g":1.1},{"a":77,"b":78,"t":44,"g":1.4},{"a":79,"b":80,"t":41,"g":1.2},{"a":78,"b":79,"t":55,"g":1.2},{"a":85,"b":87,"t":59,"g":0.9},{"a":90,"b":91,"t":55,"g":1},{"a":79,"b":80,"t":62,"g":1.3},{"a":92,"b":93,"t":60,"g":1.4},{"a":81,"b":82,"t":65,"g":1.4},{"a":76,"b":77,"t":60,"g":1.6},{"a":99,"b":100,"t":51,"g":1.6},{"a":96,"b":97,"t":49,"g":1.2},{"a":103,"b":104,"t":38,"g":1.5},{"a":85,"b":86,"t":34,"g":1.3},{"a":88,"b":89,"t":28,"g":1.5}
],
"wall":[{"x":561,"y":821,"y2":821},{"x":588,"y":552,"y2":835},{"x":718,"y":495,"y2":901},{"x":817,"y":508,"y2":952},{"x":865,"y":515,"y2":952},{"x":880,"y":517,"y2":897},{"x":907,"y":521,"y2":817},{"x":920,"y":522,"y2":780},{"x":1050,"y":540,"y2":540}],
"grid":[{"x":644,"y":530,"u":607,"v":777},{"x":703,"y":502,"u":658,"v":725},{"x":584,"y":593,"u":709,"v":535},{"x":581,"y":630,"u":702,"v":568},{"x":576,"y":665,"u":696,"v":596},{"x":571,"y":698,"u":691,"v":622},{"x":569,"y":727,"u":685,"v":648},{"x":567,"y":755,"u":681,"v":671},{"x":563,"y":780,"u":676,"v":691},{"x":709,"y":535,"u":1032,"v":574},{"x":702,"y":568,"u":1014,"v":610},{"x":696,"y":596,"u":999,"v":638},{"x":691,"y":622,"u":982,"v":669},{"x":685,"y":648,"u":966,"v":700},{"x":681,"y":671,"u":950,"v":731},{"x":676,"y":691,"u":934,"v":762},{"x":767,"y":503,"u":714,"v":713},{"x":875,"y":515,"u":803,"v":757},{"x":607,"y":777,"u":880,"v":897},{"x":658,"y":725,"u":906,"v":817},{"x":603,"y":843,"u":714,"v":713},{"x":717,"y":901,"u":803,"v":757}],
"rings":[
{"i":0,"x":727,"y":786,"k":"a"},{"i":1,"x":722,"y":776,"k":"a"},{"i":2,"x":723,"y":762,"k":"a"},{"i":3,"x":711,"y":756,"k":"a"},{"i":4,"x":706,"y":748,"k":"a"},{"i":5,"x":694,"y":744,"k":"a"},{"i":6,"x":684,"y":750,"k":"a"},{"i":7,"x":673,"y":751,"k":"a"},{"i":8,"x":670,"y":765,"k":"a"},{"i":9,"x":660,"y":774,"k":"a"},{"i":10,"x":664,"y":786,"k":"a"},{"i":11,"x":658,"y":800,"k":"a"},{"i":12,"x":668,"y":808,"k":"a"},{"i":13,"x":671,"y":820,"k":"a"},{"i":14,"x":684,"y":822,"k":"a"},{"i":15,"x":694,"y":829,"k":"a"},{"i":16,"x":705,"y":821,"k":"a"},{"i":17,"x":716,"y":820,"k":"a"},{"i":18,"x":719,"y":806,"k":"a"},{"i":19,"x":729,"y":798,"k":"a"},{"i":20,"x":727,"y":786,"k":"a"},
{"i":0,"x":720,"y":786,"k":"b"},{"i":1,"x":716,"y":776,"k":"b"},{"i":2,"x":715,"y":765,"k":"b"},{"i":3,"x":705,"y":763,"k":"b"},{"i":4,"x":702,"y":754,"k":"b"},{"i":5,"x":694,"y":753,"k":"b"},{"i":6,"x":686,"y":758,"k":"b"},{"i":7,"x":678,"y":757,"k":"b"},{"i":8,"x":676,"y":770,"k":"b"},{"i":9,"x":668,"y":777,"k":"b"},{"i":10,"x":671,"y":786,"k":"b"},{"i":11,"x":666,"y":796,"k":"b"},{"i":12,"x":675,"y":804,"k":"b"},{"i":13,"x":677,"y":814,"k":"b"},{"i":14,"x":686,"y":815,"k":"b"},{"i":15,"x":694,"y":820,"k":"b"},{"i":16,"x":702,"y":814,"k":"b"},{"i":17,"x":712,"y":812,"k":"b"},{"i":18,"x":713,"y":800,"k":"b"},{"i":19,"x":720,"y":795,"k":"b"},{"i":20,"x":720,"y":786,"k":"b"},
{"i":0,"x":712,"y":786,"k":"c"},{"i":1,"x":709,"y":778,"k":"c"},{"i":2,"x":709,"y":770,"k":"c"},{"i":3,"x":701,"y":770,"k":"c"},{"i":4,"x":699,"y":762,"k":"c"},{"i":5,"x":694,"y":762,"k":"c"},{"i":6,"x":688,"y":766,"k":"c"},{"i":7,"x":682,"y":766,"k":"c"},{"i":8,"x":683,"y":775,"k":"c"},{"i":9,"x":676,"y":780,"k":"c"},{"i":10,"x":680,"y":786,"k":"c"},{"i":11,"x":675,"y":793,"k":"c"},{"i":12,"x":682,"y":798,"k":"c"},{"i":13,"x":682,"y":806,"k":"c"},{"i":14,"x":689,"y":806,"k":"c"},{"i":15,"x":694,"y":812,"k":"c"},{"i":16,"x":700,"y":806,"k":"c"},{"i":17,"x":706,"y":806,"k":"c"},{"i":18,"x":707,"y":797,"k":"c"},{"i":19,"x":713,"y":792,"k":"c"},{"i":20,"x":712,"y":786,"k":"c"},
{"i":0,"x":706,"y":786,"k":"d"},{"i":1,"x":703,"y":780,"k":"d"},{"i":2,"x":703,"y":775,"k":"d"},{"i":3,"x":698,"y":775,"k":"d"},{"i":4,"x":697,"y":770,"k":"d"},{"i":5,"x":693,"y":772,"k":"d"},{"i":6,"x":689,"y":773,"k":"d"},{"i":7,"x":686,"y":773,"k":"d"},{"i":8,"x":687,"y":780,"k":"d"},{"i":9,"x":682,"y":783,"k":"d"},{"i":10,"x":686,"y":787,"k":"d"},{"i":11,"x":683,"y":792,"k":"d"},{"i":12,"x":688,"y":795,"k":"d"},{"i":13,"x":688,"y":800,"k":"d"},{"i":14,"x":691,"y":800,"k":"d"},{"i":15,"x":694,"y":804,"k":"d"},{"i":16,"x":698,"y":800,"k":"d"},{"i":17,"x":702,"y":800,"k":"d"},{"i":18,"x":702,"y":794,"k":"d"},{"i":19,"x":707,"y":791,"k":"d"},{"i":20,"x":706,"y":786,"k":"d"}
],
"cone":[{"x":688,"y":677,"y2":678},{"x":690,"y":650,"y2":700},{"x":692,"y":630,"y2":722},{"x":694,"y":600,"y2":740},{"x":696,"y":590,"y2":770},{"x":698,"y":572,"y2":780},{"x":700,"y":575,"y2":782},{"x":702,"y":555,"y2":785},{"x":704,"y":560,"y2":783},{"x":706,"y":525,"y2":780},{"x":708,"y":520,"y2":778},{"x":710,"y":520,"y2":776},{"x":712,"y":522,"y2":774},{"x":714,"y":515,"y2":772},{"x":716,"y":513,"y2":771},{"x":718,"y":515,"y2":769},{"x":720,"y":512,"y2":767},{"x":722,"y":513,"y2":762},{"x":724,"y":515,"y2":758},{"x":726,"y":511,"y2":754},{"x":728,"y":505,"y2":749},{"x":730,"y":505,"y2":745},{"x":732,"y":503,"y2":741},{"x":734,"y":504,"y2":736},{"x":736,"y":543,"y2":732},{"x":738,"y":520,"y2":727},{"x":740,"y":512,"y2":723},{"x":742,"y":510,"y2":719},{"x":744,"y":510,"y2":715},{"x":746,"y":540,"y2":710},{"x":748,"y":515,"y2":703},{"x":750,"y":510,"y2":695},{"x":752,"y":515,"y2":691},{"x":754,"y":512,"y2":687},{"x":756,"y":535,"y2":682},{"x":758,"y":512,"y2":678},{"x":760,"y":510,"y2":673},{"x":762,"y":512,"y2":670},{"x":764,"y":512,"y2":667},{"x":766,"y":514,"y2":663},{"x":768,"y":512,"y2":659},{"x":770,"y":542,"y2":655},{"x":772,"y":525,"y2":651},{"x":774,"y":518,"y2":647},{"x":776,"y":525,"y2":643},{"x":778,"y":520,"y2":640},{"x":780,"y":525,"y2":630},{"x":782,"y":530,"y2":626},{"x":784,"y":545,"y2":622},{"x":786,"y":532,"y2":618},{"x":788,"y":528,"y2":614},{"x":790,"y":535,"y2":610},{"x":792,"y":530,"y2":606},{"x":794,"y":535,"y2":594},{"x":796,"y":530,"y2":587},{"x":798,"y":535,"y2":581},{"x":800,"y":532,"y2":575},{"x":802,"y":538,"y2":569},{"x":804,"y":534,"y2":563},{"x":806,"y":537,"y2":557},{"x":808,"y":535,"y2":551},{"x":810,"y":537,"y2":545},{"x":812,"y":538,"y2":541},{"x":814,"y":538,"y2":538}],
"gaps":[{"x":766,"y":545,"u":757,"v":600},{"x":784,"y":560,"u":775,"v":600},{"x":737,"y":545,"u":733,"v":565},{"x":702,"y":560,"u":700,"v":590},{"x":746,"y":542,"u":742,"v":580},{"x":722,"y":513,"u":719,"v":535},{"x":794,"y":536,"u":789,"v":565}],
"shine":[{"x":725,"y":535,"u":718,"v":590},{"x":755,"y":560,"u":748,"v":600}],
"ztext":[{"x":576,"y":561,"s":"0"},{"x":573,"y":599,"s":"-1"},{"x":569,"y":637,"s":"-2"},{"x":567,"y":672,"s":"-3"},{"x":563,"y":704,"s":"-4"},{"x":560,"y":734,"s":"-5"},{"x":557,"y":762,"s":"-6"},{"x":554,"y":788,"s":"-7"},{"x":553,"y":813,"s":"-8"},{"x":595,"y":853,"s":"0.1"},{"x":709,"y":915,"s":"0.05"}],
"xtext":[{"x":927,"y":826,"s":"1.8"},{"x":906,"y":909,"s":"1.78"}],
"names":[{"x":541,"y":733,"s":"Z"},{"x":665,"y":922,"s":"Y"},{"x":953,"y":897,"s":"X"}],
"icons":[{"x":879,"y":484,"i":"camera"},{"x":917,"y":484,"i":"zoom"},{"x":947,"y":484,"i":"pan"},{"x":976,"y":484,"i":"orbit"},{"x":1005,"y":484,"i":"z"},{"x":1043,"y":484,"i":"home"},{"x":1072,"y":484,"i":"video"},{"x":1111,"y":484,"i":"tag"},{"x":1149,"y":484,"i":"plotly"}],
"gstep":[{"a":0,"b":0.49,"G":0.2},{"a":0.49,"b":0.98,"G":0.7},{"a":0.98,"b":1.48,"G":1.2},{"a":1.48,"b":1.97,"G":1.7},{"a":1.97,"b":2.46,"G":2.2},{"a":2.46,"b":2.95,"G":2.7},{"a":2.95,"b":3.44,"G":3.2},{"a":3.44,"b":3.93,"G":3.7},{"a":3.93,"b":4.43,"G":4.2},{"a":4.43,"b":4.92,"G":4.7},{"a":4.92,"b":5.41,"G":5.2},{"a":5.41,"b":5.9,"G":5.7},{"a":5.9,"b":6.39,"G":6.2},{"a":6.39,"b":6.88,"G":6.7},{"a":6.88,"b":7.38,"G":7.2},{"a":7.38,"b":7.87,"G":7.7},{"a":7.87,"b":8.36,"G":8.2},{"a":8.36,"b":8.85,"G":8.7},{"a":8.85,"b":9.34,"G":9.2},{"a":9.34,"b":9.83,"G":9.7},{"a":9.83,"b":10.33,"G":10.2},{"a":10.33,"b":10.82,"G":10.7},{"a":10.82,"b":11.31,"G":11.2},{"a":11.31,"b":11.8,"G":11.7}]
},
"hconcat":[
{"vconcat":[
{"width":455,"height":67,"data":{"values":[{"v":1}]},"mark":{"type":"point","opacity":0},"encoding":{}},
{"width":455,"height":455,"view":{"fill":"#ee0000","stroke":"#444444","strokeWidth":2},"title":{"text":"A","anchor":"start","frame":"group","dx":-30,"offset":2,"font":"Lato","fontSize":29,"fontWeight":"bold","color":"#111111"},"data":{"name":"pca"},"mark":{"type":"rect","strokeWidth":0.7},
"encoding":{"x":{"field":"c","type":"ordinal","scale":{"domain":[0,1,2,3,4,5,6,7,8,9,10,11,12,13,14,15,16,17,18,19,20,21,22,23,24,25,26,27,28,29,30,31],"paddingInner":0,"paddingOuter":0},"axis":{"title":"PC1","labels":false,"ticks":false,"domain":false,"titleFont":"Liberation Sans","titleFontSize":17,"titleFontWeight":"normal","titlePadding":28}},
"y":{"field":"r","type":"ordinal","scale":{"domain":[0,1,2,3,4,5,6,7,8,9,10,11,12,13,14,15,16,17,18,19,20,21,22,23,24,25,26,27,28,29,30,31],"paddingInner":0,"paddingOuter":0},"axis":{"title":"PC2","labels":false,"ticks":false,"domain":false,"titleFont":"Liberation Sans","titleFontSize":17,"titleFontWeight":"normal","titlePadding":8}},
"color":{"field":"G","type":"quantitative","legend":null,"scale":{"type":"quantize","domain":[0,11.8],"range":["#0000b8","#0040c8","#0060d8","#0078e0","#0090ee","#00a4ee","#00b8e0","#00b6b4","#00ba90","#00c070","#00c844","#00cc00","#5ccf00","#8edb00","#bbe600","#dfe800","#ffee00","#ffc800","#ffa000","#ff7700","#ff5000","#ff2800","#ee0000","#ee0000"]}},
"stroke":{"field":"G","type":"quantitative","legend":null,"scale":{"type":"quantize","domain":[0,11.8],"range":["#0000b8","#0040c8","#0060d8","#0078e0","#0090ee","#00a4ee","#00b8e0","#00b6b4","#00ba90","#00c070","#00c844","#00cc00","#5ccf00","#8edb00","#bbe600","#dfe800","#ffee00","#ffc800","#ffa000","#ff7700","#ff5000","#ff2800","#ee0000","#ee0000"]}}}},
{"width":340,"height":15,"data":{"name":"gstep"},"layer":[
{"mark":{"type":"rect"},"encoding":{"x":{"field":"a","type":"quantitative","scale":{"domain":[-5.95,11.8],"nice":false,"zero":false},"axis":{"orient":"top","values":[0.2,5.9,11.5],"labelExpr":"datum.value<1?'0':datum.value<9?'G (kJ/mol)':'11.8'","ticks":false,"domain":false,"grid":false,"title":null,"labelFont":"Liberation Sans","labelFontSize":15,"labelPadding":7,"labelColor":"#111111"}},"x2":{"field":"b"},"color":{"field":"G","type":"quantitative","legend":null,"scale":{"type":"quantize","domain":[0,11.8],"range":["#0000b8","#0040c8","#0060d8","#0078e0","#0090ee","#00a4ee","#00b8e0","#00b6b4","#00ba90","#00c070","#00c844","#00cc00","#5ccf00","#8edb00","#bbe600","#dfe800","#ffee00","#ffc800","#ffa000","#ff7700","#ff5000","#ff2800","#ee0000","#ee0000"]}}}},
{"data":{"values":[{"a":0,"b":11.8}]},"mark":{"type":"rect","fillOpacity":0,"stroke":"#222222","strokeWidth":1.5},"encoding":{"x":{"field":"a","type":"quantitative"},"x2":{"field":"b"}}}
]}
],"spacing":79,"bounds":"flush"},
{"vconcat":[
{"hconcat":[
{"width":505,"height":393,"view":{"fill":"#ffee00","stroke":"#444444","strokeWidth":1.5},"title":{"text":"B","anchor":"start","frame":"group","dx":-84,"dy":24,"offset":0,"font":"Lato","fontSize":29,"fontWeight":"bold","color":"#111111"},
"encoding":{"x":{"field":"a","type":"quantitative","scale":{"domain":[0,128],"nice":false,"zero":false},"axis":{"title":"RMSD (nm)","values":[20.8,41.84,62.88,83.92,104.96,126],"labelExpr":"format((datum.value+0.2)/1050,'.2f')","grid":false,"labelFontSize":14,"titleFontSize":14,"titleFontWeight":"normal","tickSize":4,"tickColor":"#222222","labelColor":"#111111","titleColor":"#111111","domain":false,"labelPadding":3,"titlePadding":9}},
"x2":{"field":"b"},
"y":{"field":"t","type":"quantitative","scale":{"domain":[99.5,-0.5],"nice":false,"zero":false,"padding":0},"axis":{"title":"Rg (nm)","values":[2.8,15.23,27.66,40.09,52.52,64.95,77.38,89.8],"labelExpr":"format(1.805-(datum.value-2.8)/2486,'.3f')","grid":false,"labelFontSize":14,"titleFontSize":14,"titleFontWeight":"normal","tickSize":4,"tickColor":"#222222","labelColor":"#111111","titleColor":"#111111","domain":false,"labelPadding":6,"titlePadding":8}}},
"layer":[
{"data":{"name":"edge"},"mark":{"type":"bar","orient":"horizontal","size":4.2,"color":"#6600b4"}},
{"data":{"name":"core"},"mark":{"type":"bar","orient":"horizontal","size":7.86},"encoding":{"color":{"field":"g","type":"quantitative","legend":null,"scale":{"domain":[0,1,2,2.7,4,5,6,7,8,9,10],"range":["#000000","#1c0038","#560098","#7400bf","#a00075","#bb0000","#cf3a00","#e06800","#ee9500","#f8c400","#ffee00"]}}}},
{"data":{"name":"specks"},"mark":{"type":"bar","orient":"horizontal","size":3.93},"encoding":{"color":{"field":"g","type":"quantitative","legend":null}}}
]},
{"width":13,"height":393,"view":{"stroke":"#444444","strokeWidth":1.5},"data":{"values":[{"lo":0,"hi":10}]},
"mark":{"type":"rect","color":{"gradient":"linear","x1":0,"y1":0,"x2":0,"y2":1,"stops":[{"offset":0,"color":"#ffee00"},{"offset":0.1,"color":"#f8c400"},{"offset":0.2,"color":"#ee9500"},{"offset":0.3,"color":"#e06800"},{"offset":0.4,"color":"#cf3a00"},{"offset":0.5,"color":"#bb0000"},{"offset":0.6,"color":"#a00075"},{"offset":0.73,"color":"#7400bf"},{"offset":0.8,"color":"#5c00a8"},{"offset":0.9,"color":"#2c0050"},{"offset":1,"color":"#000000"}]}},
"encoding":{"y":{"field":"lo","type":"quantitative","scale":{"domain":[0,10],"nice":false},"axis":{"orient":"right","values":[0,2,4,6,8,10],"title":"ΔG (kcal/mol)","titleAngle":-90,"grid":false,"domain":false,"labelFontSize":14,"titleFontSize":16,"titleFontWeight":"normal","tickSize":5,"labelColor":"#111111","titleColor":"#111111","titlePadding":24}},"y2":{"field":"hi"}}}
],"spacing":10,"bounds":"flush"},
{"hconcat":[
{"width":475,"height":482,
"encoding":{"x":{"field":"x","type":"quantitative","scale":{"domain":[600,1075],"nice":false,"zero":false},"axis":null},"y":{"field":"y","type":"quantitative","scale":{"domain":[952,470],"nice":false,"zero":false},"axis":null}},
"layer":[
{"data":{"name":"wall"},"mark":{"type":"area","color":"#e1e7f4"},"encoding":{"y2":{"field":"y2"}}},
{"data":{"name":"grid"},"mark":{"type":"rule","color":"#ffffff","strokeWidth":1.5},"encoding":{"x2":{"field":"u"},"y2":{"field":"v"}}},
{"data":{"name":"rings"},"mark":{"type":"line","strokeWidth":1,"interpolate":"linear"},"encoding":{"order":{"field":"i","type":"quantitative"},"detail":{"field":"k"},"color":{"field":"k","type":"nominal","legend":null,"scale":{"domain":["a","b","c","d"],"range":["#e8c468","#9a9a9a","#7a80a0","#24407c"]}}}},
{"data":{"name":"cone"},"mark":{"type":"area","color":{"gradient":"linear","x1":0,"y1":0,"x2":0,"y2":1,"stops":[{"offset":0,"color":"#dfb800"},{"offset":0.25,"color":"#c8a828"},{"offset":0.5,"color":"#8d8668"},{"offset":0.7,"color":"#5a5e78"},{"offset":0.85,"color":"#2c3f6e"},{"offset":1,"color":"#00224e"}]}},"encoding":{"y2":{"field":"y2"}}},
{"data":{"name":"gaps"},"mark":{"type":"rule","color":"#e1e7f4","strokeWidth":2},"encoding":{"x2":{"field":"u"},"y2":{"field":"v"}}},
{"data":{"name":"shine"},"mark":{"type":"rule","color":"#f0d030","strokeWidth":2,"opacity":0.6},"encoding":{"x2":{"field":"u"},"y2":{"field":"v"}}},
{"data":{"name":"ztext"},"mark":{"type":"text","angle":-45,"font":"Open Sans","fontSize":12,"color":"#2a2f3a"},"encoding":{"text":{"field":"s"}}},
{"data":{"name":"xtext"},"mark":{"type":"text","angle":18,"font":"Open Sans","fontSize":12,"color":"#2a2f3a"},"encoding":{"text":{"field":"s"}}},
{"data":{"name":"names"},"mark":{"type":"text","font":"Open Sans","fontSize":13,"color":"#2a2f3a"},"encoding":{"text":{"field":"s"}}},
{"data":{"values":[{"x":527,"y":485,"s":"C"}]},"mark":{"type":"text","font":"Lato","fontSize":29,"fontWeight":"bold","color":"#111111"},"encoding":{"text":{"field":"s"}}},
{"data":{"name":"icons"},"mark":{"type":"point","filled":true,"size":324,"opacity":1},"encoding":{"shape":{"field":"i","type":"nominal","legend":null,"scale":{"domain":["camera","zoom","pan","orbit","z","home","video","tag","plotly"],"range":["M-1,-.6H-.4L-.2,-.85H.3L.5,-.6H1V.8H-1Z M0,-.3A.4,.4 0 1 0 0,.5A.4,.4 0 1 0 0,-.3Z","M-.9,-.9H.5V.5H-.9Z M-.5,-.5V.1H.1V-.5Z M.3,.4L.9,1L1.1,.8L.5,.2Z","M0,-1L.35,-.6H.13V-.13H.6V-.35L1,0L.6,.35V.13H.13V.6H.35L0,1L-.35,.6H-.13V.13H-.6V.35L-1,0L-.6,-.35V-.13H-.13V-.6H-.35Z","M-.8,.2A.8,.8 0 0 1 .5,-.6L.8,-.9V-.1H0L.25,-.35A.5,.5 0 0 0 -.45,.2Z M.8,-.2A.8,.8 0 0 1 -.5,.6L-.8,.9V.1H0L-.25,.35A.5,.5 0 0 0 .45,-.2Z","M-.2,-1H.2V-.9L-.05,-.6H.2V-.5H-.2V-.6L.05,-.9H-.2Z M-.06,-.4H.06V.45H-.06Z M-.9,.5A.9,.35 0 0 0 .9,.5L.5,.3V.45A.5,.2 0 0 1 -.5,.45V.3Z","M0,-.9L1,0H.7V.8H.2V.2H-.2V.8H-.7V0H-1Z","M-1,-.3H.5V.7H-1Z M.5,.1L1,-.2V.6L.5,.3Z M-.5,-.75A.4,.4 0 1 0 -.5,-.05A.4,.4 0 1 0 -.5,-.75Z M.2,-.75A.4,.4 0 1 0 .2,-.05A.4,.4 0 1 0 .2,-.75Z","M-1,0L-.4,-.5H1V.5H-.4Z","M-1,-1H1V1H-1Z M-.6,-.1V.7H-.4V-.1Z M-.2,-.4V.7H0V-.4Z M.2,-.1V.7H.4V-.1Z M.6,-.4V.7H.75V-.4Z"]}},"color":{"field":"i","type":"nominal","legend":null,"scale":{"domain":["camera","zoom","pan","orbit","z","home","video","tag","plotly"],"range":["#c4c4c4","#6b6b6b","#c4c4c4","#c4c4c4","#c4c4c4","#c4c4c4","#c4c4c4","#7a7a7a","#2f4a80"]}}}}
],"resolve":{"scale":{"color":"independent"}}},
{"vconcat":[
{"width":47,"height":140,"data":{"values":[{"v":1}]},"mark":{"type":"point","opacity":0},"encoding":{}},
{"width":47,"height":223,"data":{"values":[{"lo":-8.75,"hi":0}]},"mark":{"type":"rect","color":{"gradient":"linear","x1":0,"y1":0,"x2":0,"y2":1,"stops":[{"offset":0,"color":"#ffdc00"},{"offset":0.115,"color":"#e8c050"},{"offset":0.23,"color":"#bfa95c"},{"offset":0.34,"color":"#98906d"},{"offset":0.46,"color":"#787878"},{"offset":0.57,"color":"#5f6270"},{"offset":0.69,"color":"#444f6e"},{"offset":0.8,"color":"#23386c"},{"offset":0.87,"color":"#002c6c"},{"offset":1,"color":"#001a4c"}]}},
"encoding":{"y":{"field":"lo","type":"quantitative","scale":{"domain":[-8.75,0],"nice":false,"zero":false},"axis":{"orient":"right","values":[0,-2,-4,-6,-8],"format":"d","title":"z","grid":false,"domain":false,"ticks":false,"labelPadding":4,"labelFont":"Open Sans","labelFontSize":10,"labelColor":"#444444","titleFont":"Open Sans","titleFontSize":11,"titleFontWeight":"normal","titleColor":"#444444","titlePadding":6}},"y2":{"field":"hi"}}}
],"spacing":10,"bounds":"flush"}
],"spacing":15,"bounds":"flush"}
],"spacing":16,"align":"none"}
],"spacing":17,"resolve":{"scale":{"color":"independent"}}}
